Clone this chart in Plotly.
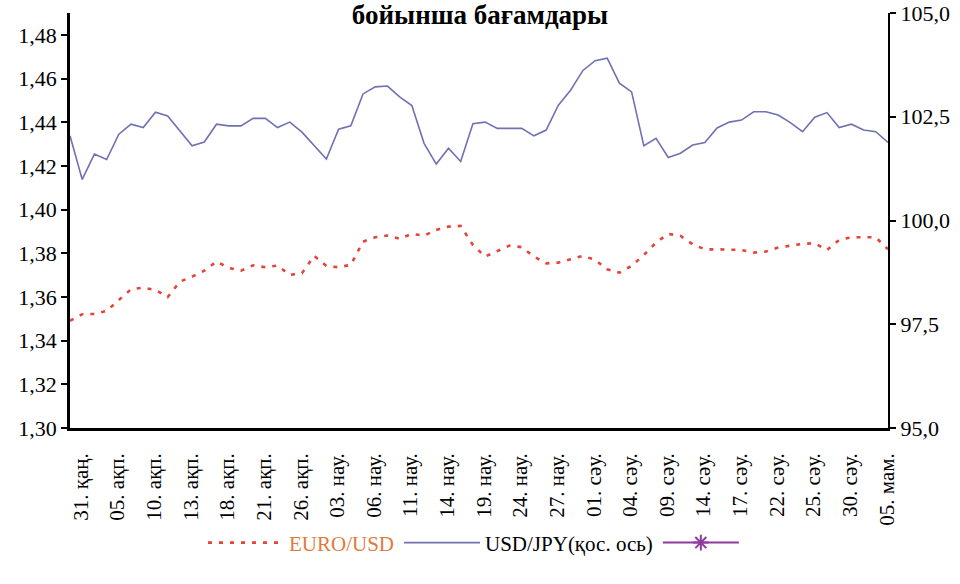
import pandas as pd
import plotly.graph_objects as go

MONTHS = {1: "қаң.", 2: "ақп.", 3: "нау.", 4: "сәу.", 5: "мам."}

# trading days 31.01.2014 - 06.05.2014
trade_days = pd.bdate_range("2014-01-31", "2014-05-06")
dates = [f"{d.day:02d}. {MONTHS[d.month]}" for d in trade_days]
tick_labels = dates[::3]

eur_usd = [
    1.3491, 1.3521, 1.3522, 1.3536, 1.3586, 1.3635, 1.3643, 1.3632, 1.3599, 1.3670,
    1.3693, 1.3720, 1.3762, 1.3733, 1.3720, 1.3745, 1.3736, 1.3744, 1.3701, 1.3709,
    1.3788, 1.3742, 1.3736, 1.3747, 1.3853, 1.3873, 1.3881, 1.3866, 1.3889, 1.3880,
    1.3907, 1.3922, 1.3925, 1.3838, 1.3785, 1.3811, 1.3835, 1.3828, 1.3785, 1.3754,
    1.3757, 1.3773, 1.3788, 1.3770, 1.3727, 1.3711, 1.3742, 1.3792, 1.3849, 1.3889,
    1.3880, 1.3841, 1.3818, 1.3818, 1.3818, 1.3815, 1.3803, 1.3808, 1.3826, 1.3835,
    1.3843, 1.3846, 1.3815, 1.3861, 1.3873, 1.3873, 1.3873, 1.3818,
]

usd_jpy = [
    102.04, 100.99, 101.60, 101.47, 102.08, 102.32, 102.24, 102.61, 102.52, 102.16,
    101.80, 101.89, 102.32, 102.28, 102.28, 102.46, 102.46, 102.24, 102.37, 102.13,
    101.80, 101.48, 102.20, 102.28, 103.05, 103.22, 103.24, 102.98, 102.77, 101.86,
    101.36, 101.74, 101.42, 102.33, 102.37, 102.22, 102.22, 102.22, 102.04, 102.18,
    102.78, 103.14, 103.61, 103.85, 103.91, 103.31, 103.10, 101.80, 101.98, 101.52,
    101.62, 101.82, 101.88, 102.23, 102.37, 102.42, 102.62, 102.62, 102.54, 102.36,
    102.14, 102.49, 102.60, 102.24, 102.32, 102.18, 102.14, 101.88,
]

left_ticks = [1.30, 1.32, 1.34, 1.36, 1.38, 1.40, 1.42, 1.44, 1.46, 1.48]
right_ticks = [95.0, 97.5, 100.0, 102.5, 105.0]

FONT = "Liberation Serif"

fig = go.Figure()

fig.add_trace(go.Scatter(
    x=dates, y=eur_usd, mode="lines",
    name="<span style='color:#e07a3c'>EURO/USD</span>",
    line=dict(color="#e5443a", width=2.6, dash="4px,7px"),
))
fig.add_trace(go.Scatter(
    x=dates, y=usd_jpy, mode="lines", yaxis="y2",
    name="USD/JPY(қос. ось)",
    line=dict(color="#7070b4", width=1.6),
))
# empty series shown only in the legend
fig.add_trace(go.Scatter(
    x=[None], y=[None], mode="lines+markers", name=" ",
    line=dict(color="#8e3a9e", width=2),
    marker=dict(symbol="asterisk", size=13, line=dict(color="#8e3a9e", width=2)),
    showlegend=True,
))

fig.update_layout(
    width=960, height=584,
    margin=dict(l=70, r=72, t=13, b=156, autoexpand=False),
    paper_bgcolor="white", plot_bgcolor="white",
    separators=", ",
    font=dict(family=FONT, size=20, color="black"),
    title=dict(text="<b>бойынша бағамдары</b>", x=0.5, xanchor="center",
               y=0.975, yanchor="middle",
               font=dict(family=FONT, size=27)),
    showlegend=True,
    legend=dict(orientation="h", x=0.5, xanchor="center", y=-0.277, yanchor="middle",
                itemwidth=76, font=dict(family=FONT, size=21), traceorder="normal"),
    xaxis=dict(
        type="category", categoryorder="array", categoryarray=dates,
        range=[0, len(dates) - 1], automargin=False,
        tickvals=tick_labels, ticktext=tick_labels,
        tickangle=-90, ticks="", ticklabelstandoff=14, ticklabelshift=11,
        tickfont=dict(size=21),
        showline=True, linecolor="black", linewidth=2.5,
        showgrid=False, zeroline=False,
    ),
    yaxis=dict(
        range=[1.30, 1.49], tickvals=left_ticks, tickformat=".2f", automargin=False,
        ticks="outside", ticklen=6, tickwidth=2, tickcolor="black",
        showline=True, linecolor="black", linewidth=2.5,
        showgrid=False, zeroline=False, tickfont=dict(size=22),
    ),
    yaxis2=dict(
        range=[95, 105], tickvals=right_ticks, tickformat=".1f", automargin=False,
        overlaying="y", side="right", ticklabeloverflow="allow",
        ticks="outside", ticklen=6, tickwidth=2, tickcolor="black",
        showline=True, linecolor="black", linewidth=2,
        showgrid=False, zeroline=False, tickfont=dict(size=22),
    ),
)

# drop the default body margin so the figure fills the window exactly
fig.write_html("out.html", config={"displayModeBar": False},
               post_script="document.body.style.margin='0';")
